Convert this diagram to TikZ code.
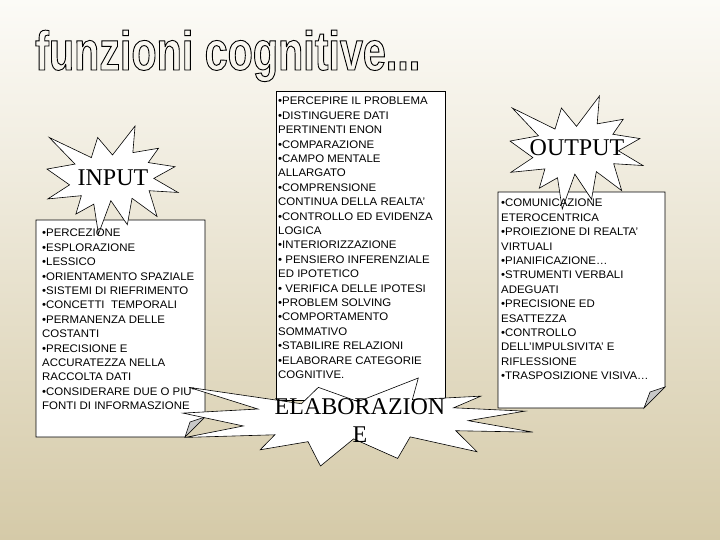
\documentclass[tikz,border=0pt]{standalone}
\usepackage{fontspec}
\setmainfont{Liberation Serif}
\newfontfamily\boxfont[FakeStretch=1.04]{Liberation Sans}
\newfontfamily\titlefont[FakeStretch=0.75]{Liberation Sans}
\definecolor{bgtop}{RGB}{252,251,247}
\definecolor{bgmid}{RGB}{239,234,218}
\definecolor{bgbot}{RGB}{213,202,168}
\definecolor{foldgrey}{RGB}{200,200,200}
\tikzset{
  panel/.style={fill=white,draw=black,line width=0.6pt},
  foldtri/.style={fill=foldgrey,draw=black,line width=0.6pt},
  burstline/.style={fill=white,draw=black,line width=0.6pt},
  listtext/.style={anchor=north west,inner sep=0pt,align=left,font=\boxfont\fontsize{11}{14.4}\selectfont},
  burstlabel/.style={inner sep=0pt,align=center,font=\fontsize{24}{28}\selectfont},
  pics/burst/.style={code={
    \draw[burstline] (.5000,.2685) -- (.6723,0) -- (.6553,.2465) -- (.8509,.2063) -- (.7732,.3387)
      -- (.9767,.3767) -- (.8151,.4850) -- (1,.6153) -- (.7795,.5992) -- (.8400,.8377)
      -- (.6491,.6693) -- (.6133,.9138) -- (.4876,.6914) -- (.3928,1) -- (.3572,.7235)
      -- (.2205,.8156) -- (.2624,.6452) -- (.0063,.6753) -- (.1723,.5451) -- (0,.3988)
      -- (.2142,.3526) -- (.0171,.1063) -- (.3385,.2926) -- (.3867,.1063) -- cycle;
  }}
}
\begin{document}
\begin{tikzpicture}[x=1pt,y=-1pt]
\useasboundingbox (0,0) rectangle (720,540);
\shade[top color=bgtop,middle color=bgmid,bottom color=bgbot] (0,0) rectangle (720,540);

% title
\node[anchor=base west,inner sep=0pt,font=\titlefont\bfseries\fontsize{55}{60}\selectfont] (title) at (35,70)
  {\special{pdf:literal direct 1 Tr 0.9 w}funzioni cognitive...\special{pdf:literal direct 0 Tr}};

% panels
\draw[panel] (36,220) -- (205,220) -- (205,417) -- (185,437) -- (36,437) -- cycle;
\draw[foldtri] (185,437) -- (190,422) -- (205,417) -- cycle;
\draw[panel] (276,91) rectangle (445,400);
\draw[panel] (498,192) -- (665,192) -- (665,387) -- (644,408) -- (498,408) -- cycle;
\draw[foldtri] (644,408) -- (650,392) -- (665,387) -- cycle;

% bursts
\pic[xscale=131,yscale=108] at (47,126) {burst};
\pic[xscale=133,yscale=113] at (510,96) {burst};
\pic[xscale=350,yscale=88] at (183,378) {burst};

% panel texts
\node[listtext] (intext) at (42,229) {%
•PERCEZIONE\\
•ESPLORAZIONE\\
•LESSICO\\
•ORIENTAMENTO SPAZIALE\\
•SISTEMI DI RIEFRIMENTO\\
•CONCETTI\ \ TEMPORALI\\
•PERMANENZA DELLE\\
COSTANTI\\
•PRECISIONE E\\
ACCURATEZZA NELLA\\
RACCOLTA DATI\\
•CONSIDERARE DUE O PIU’\\
FONTI DI INFORMASZIONE};

\node[listtext] (midtext) at (278,97) {%
•PERCEPIRE IL PROBLEMA\\
•DISTINGUERE DATI\\
PERTINENTI ENON\\
•COMPARAZIONE\\
•CAMPO MENTALE\\
ALLARGATO\\
•COMPRENSIONE\\
CONTINUA DELLA REALTA’\\
•CONTROLLO ED EVIDENZA\\
LOGICA\\
•INTERIORIZZAZIONE\\
• PENSIERO INFERENZIALE\\
ED IPOTETICO\\
• VERIFICA DELLE IPOTESI\\
•PROBLEM SOLVING\\
•COMPORTAMENTO\\
SOMMATIVO\\
•STABILIRE RELAZIONI\\
•ELABORARE CATEGORIE\\
COGNITIVE.};

\node[listtext] (outtext) at (501,199) {%
•COMUNICAZIONE\\
ETEROCENTRICA\\
•PROIEZIONE DI REALTA’\\
VIRTUALI\\
•PIANIFICAZIONE…\\
•STRUMENTI VERBALI\\
ADEGUATI\\
•PRECISIONE ED\\
ESATTEZZA\\
•CONTROLLO\\
DELL’IMPULSIVITA’ E\\
RIFLESSIONE\\
•TRASPOSIZIONE VISIVA…};

% burst labels
\node[burstlabel] (inlab) at (113,178) {INPUT};
\node[burstlabel] (outlab) at (577,148) {OUTPUT};
\node[burstlabel] (elablab) at (360,421) {ELABORAZION\\E};
\end{tikzpicture}
\end{document}
